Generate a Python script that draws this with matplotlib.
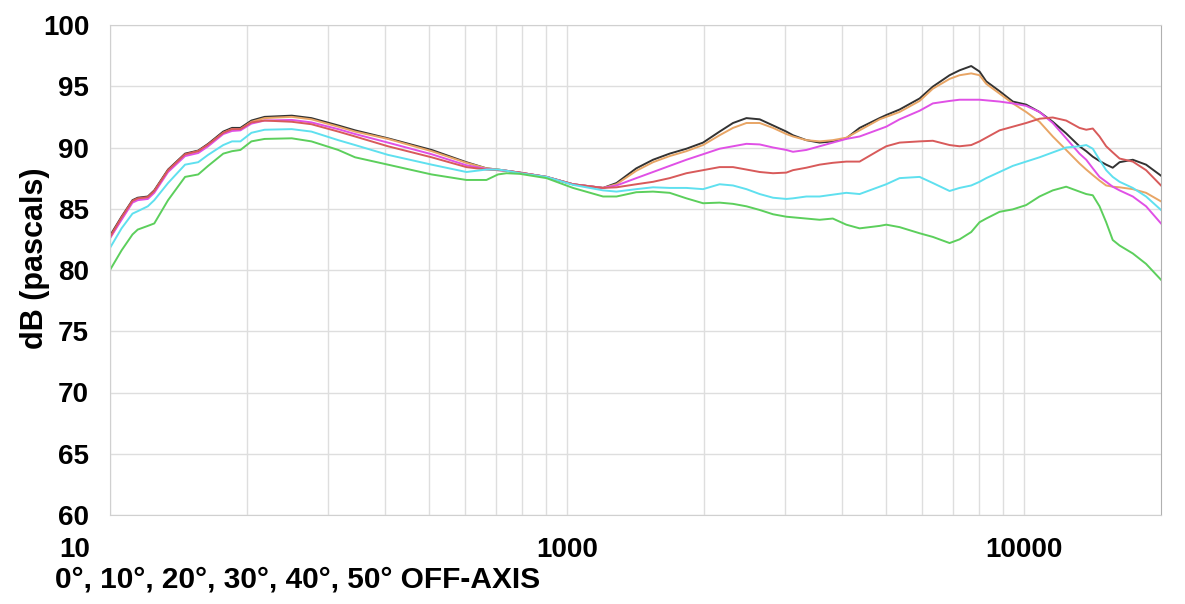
import numpy as np
import matplotlib
matplotlib.use('Agg')
import matplotlib.pyplot as plt
import matplotlib.transforms as mtransforms
from matplotlib.ticker import FixedLocator, NullFormatter

# Frequency points (Hz)
freq_hz = [100, 106, 112, 115, 121, 125, 134, 146, 156, 164,
           177, 185, 193, 204, 218, 250, 276, 316, 344, 406,
           506, 603, 667, 707, 738, 789, 903, 1032, 1201, 1285,
           1420, 1545, 1680, 1828, 1988, 2161, 2312, 2474, 2645, 2829,
           3025, 3128, 3346, 3578, 3824, 4093, 4377, 4841, 5006, 5354,
           5922, 6332, 6889, 7244, 7683, 8012, 8286, 8863, 9476, 10134,
           10840, 11590, 12400, 13260, 13720, 14180, 14670, 15170, 15680, 16230,
           17350, 18550, 20000]

# Levels (dB) for each off-axis angle
db_0 = [82.8, 84.35, 85.7, 85.9, 86.0, 86.5, 88.2, 89.5, 89.75, 90.3,
        91.3, 91.6, 91.6, 92.2, 92.5, 92.6, 92.4, 91.8, 91.4, 90.75,
        89.8, 88.8, 88.3, 88.2, 88.1, 87.95, 87.6, 87.0, 86.7, 87.1,
        88.3, 89.0, 89.5, 89.9, 90.4, 91.3, 92.0, 92.4, 92.3, 91.8,
        91.3, 91.0, 90.6, 90.4, 90.5, 90.75, 91.6, 92.4, 92.65, 93.1,
        94.0, 94.97, 95.9, 96.3, 96.65, 96.2, 95.4, 94.6, 93.75, 93.5,
        92.9, 92.1, 91.15, 90.1, 89.7, 89.25, 88.9, 88.6, 88.35, 88.8,
        89.0, 88.6, 87.7]
db_10 = [82.6, 84.2, 85.6, 85.8, 85.9, 86.4, 88.1, 89.4, 89.7, 90.2,
         91.2, 91.5, 91.5, 92.1, 92.4, 92.5, 92.3, 91.7, 91.3, 90.7,
         89.7, 88.75, 88.3, 88.2, 88.1, 87.95, 87.6, 87.0, 86.7, 87.0,
         88.1, 88.8, 89.3, 89.7, 90.2, 91.0, 91.6, 92.0, 92.0, 91.6,
         91.1, 90.9, 90.6, 90.5, 90.6, 90.8, 91.4, 92.3, 92.5, 92.9,
         93.8, 94.8, 95.6, 95.9, 96.05, 95.9, 95.2, 94.4, 93.6, 92.9,
         92.1, 90.9, 89.8, 88.7, 88.2, 87.75, 87.3, 86.9, 86.8, 86.75,
         86.6, 86.3, 85.6]
db_20 = [82.6, 84.1, 85.5, 85.7, 85.8, 86.3, 88.0, 89.3, 89.55, 90.1,
         91.1, 91.35, 91.4, 91.95, 92.2, 92.25, 92.05, 91.5, 91.1, 90.4,
         89.45, 88.55, 88.25, 88.15, 88.1, 87.95, 87.6, 87.0, 86.7, 86.9,
         87.5, 88.0, 88.5, 89.0, 89.45, 89.9, 90.1, 90.3, 90.25, 90.0,
         89.8, 89.65, 89.8, 90.1, 90.4, 90.7, 90.9, 91.5, 91.7, 92.3,
         93.0, 93.6, 93.8, 93.9, 93.9, 93.9, 93.85, 93.75, 93.6, 93.4,
         92.9, 92.0, 90.75, 89.5, 89.0, 88.3, 87.6, 87.2, 86.8, 86.5,
         86.0, 85.2, 83.8]
db_30 = [82.7, 84.3, 85.65, 85.85, 85.95, 86.45, 88.15, 89.45, 89.7, 90.25,
         91.2, 91.5, 91.5, 92.05, 92.2, 92.1, 91.9, 91.3, 90.9, 90.1,
         89.2, 88.4, 88.2, 88.15, 88.1, 87.95, 87.6, 87.0, 86.7, 86.75,
         87.0, 87.2, 87.5, 87.9, 88.15, 88.4, 88.4, 88.2, 88.0, 87.9,
         87.95, 88.15, 88.35, 88.6, 88.75, 88.85, 88.85, 89.8, 90.1, 90.4,
         90.5, 90.55, 90.2, 90.1, 90.2, 90.5, 90.8, 91.4, 91.7, 92.0,
         92.35, 92.45, 92.2, 91.6, 91.45, 91.55, 90.9, 90.1, 89.6, 89.1,
         88.85, 88.15, 86.9]
db_40 = [81.8, 83.4, 84.6, 84.8, 85.2, 85.7, 87.1, 88.6, 88.8, 89.4,
         90.2, 90.5, 90.5, 91.2, 91.45, 91.5, 91.3, 90.6, 90.2, 89.4,
         88.6, 88.0, 88.2, 88.2, 88.1, 87.9, 87.6, 86.95, 86.5, 86.4,
         86.6, 86.75, 86.7, 86.7, 86.6, 87.0, 86.9, 86.6, 86.2, 85.9,
         85.8, 85.85, 86.0, 86.0, 86.15, 86.3, 86.2, 86.8, 87.0, 87.5,
         87.6, 87.1, 86.45, 86.7, 86.9, 87.2, 87.5, 88.0, 88.5, 88.85,
         89.2, 89.6, 90.0, 90.1, 90.2, 89.9, 89.0, 88.15, 87.6, 87.2,
         86.7, 86.0, 84.9]
db_50 = [80.0, 81.6, 82.9, 83.3, 83.6, 83.8, 85.7, 87.6, 87.8, 88.5,
         89.5, 89.7, 89.8, 90.5, 90.7, 90.75, 90.5, 89.8, 89.2, 88.6,
         87.8, 87.35, 87.35, 87.8, 87.9, 87.85, 87.5, 86.7, 86.0, 86.0,
         86.35, 86.4, 86.3, 85.85, 85.45, 85.5, 85.4, 85.2, 84.9, 84.55,
         84.35, 84.3, 84.2, 84.1, 84.2, 83.7, 83.4, 83.6, 83.7, 83.5,
         83.0, 82.7, 82.2, 82.5, 83.1, 83.9, 84.2, 84.75, 84.95, 85.3,
         86.0, 86.5, 86.8, 86.4, 86.2, 86.1, 85.2, 83.9, 82.45, 82.0,
         81.35, 80.5, 79.2]

series = [
    (db_0, '#333333'),
    (db_10, '#e8a565'),
    (db_20, '#e050e6'),
    (db_30, '#d85a5a'),
    (db_40, '#5fe0ef'),
    (db_50, '#5ccf5c'),
]

x_ticks = [100, 1000, 10000]
x_tick_labels = ['10', '1000', '10000']
y_ticks = list(range(60, 101, 5))

plt.rcParams['font.family'] = ['Liberation Sans', 'DejaVu Sans']
plt.rcParams['font.weight'] = 'bold'

fig = plt.figure(figsize=(11.85, 6.04), dpi=100)
ax = fig.add_axes([110 / 1185, 1 - 515 / 604, (1161 - 110) / 1185, (515 - 25) / 604])

for values, color in series:
    ax.plot(freq_hz, values, color=color, lw=1.4, solid_joinstyle='round')

ax.set_xscale('log')
ax.set_xlim(100, 20000)
ax.set_ylim(60, 100)

minor = [m * 10 ** e for e in (2, 3, 4) for m in range(2, 10) if m * 10 ** e < 20000]
ax.xaxis.set_minor_locator(FixedLocator(minor))
ax.xaxis.set_minor_formatter(NullFormatter())
ax.set_xticks(x_ticks, x_tick_labels)
ax.set_yticks(y_ticks)

ax.grid(True, which='both', axis='x', color='#dedede', lw=1)
ax.grid(True, which='major', axis='y', color='#dedede', lw=1)
ax.set_axisbelow(True)

ax.tick_params(which='both', length=0)
ax.tick_params(axis='y', labelsize=20, pad=15)
ax.tick_params(axis='x', labelsize=20, pad=16)
for lab in ax.get_xticklabels() + ax.get_yticklabels():
    lab.set_fontweight('bold')

# first x label sits to the left of the axis, like the y labels
first = ax.get_xticklabels()[0]
first.set_ha('right')
first.set_transform(first.get_transform() + mtransforms.ScaledTranslation(-0.2, 0, fig.dpi_scale_trans))

for side in ('left', 'top', 'bottom'):
    ax.spines[side].set_color('#d0d0d0')
ax.spines['right'].set_color('#b0b0b0')

fig.text(35 / 1185, 1 - 258 / 604, 'dB (pascals)', rotation=90, ha='center', va='center',
         fontsize=22, fontweight='bold')
fig.text(55 / 1185, 1 - 580 / 604, '0°, 10°, 20°, 30°, 40°, 50° OFF-AXIS', ha='left', va='center',
         fontsize=21.5, fontweight='bold')

fig.savefig('out.png', dpi=100)
